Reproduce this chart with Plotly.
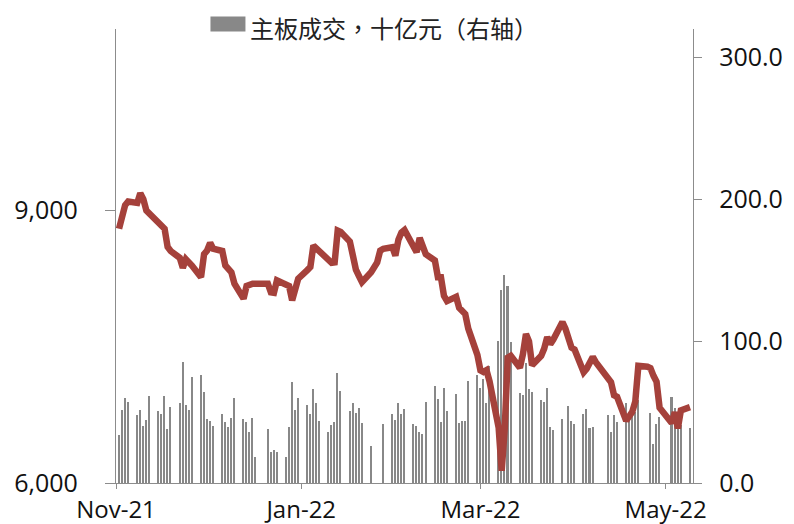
import plotly.graph_objects as go

# ---- data ----
dates = [
    "2021-11-02", "2021-11-03", "2021-11-04", "2021-11-05",
    "2021-11-08", "2021-11-09", "2021-11-10", "2021-11-11", "2021-11-12",
    "2021-11-15", "2021-11-16", "2021-11-17", "2021-11-18", "2021-11-19",
    "2021-11-22", "2021-11-23", "2021-11-24", "2021-11-25", "2021-11-26",
    "2021-11-29", "2021-11-30", "2021-12-01", "2021-12-02", "2021-12-03",
    "2021-12-06", "2021-12-07", "2021-12-08", "2021-12-09", "2021-12-10",
    "2021-12-13", "2021-12-14", "2021-12-15", "2021-12-16", "2021-12-17",
    "2021-12-20", "2021-12-21", "2021-12-22", "2021-12-23", "2021-12-24",
    "2021-12-27", "2021-12-28", "2021-12-29", "2021-12-30", "2021-12-31",
    "2022-01-03", "2022-01-04", "2022-01-05", "2022-01-06", "2022-01-07",
    "2022-01-10", "2022-01-11", "2022-01-12", "2022-01-13", "2022-01-14",
    "2022-01-17", "2022-01-18", "2022-01-19", "2022-01-20", "2022-01-21",
    "2022-01-24", "2022-01-25", "2022-01-26", "2022-01-27", "2022-01-28",
    "2022-01-31", "2022-02-01", "2022-02-02", "2022-02-03", "2022-02-04",
    "2022-02-07", "2022-02-08", "2022-02-09", "2022-02-10", "2022-02-11",
    "2022-02-14", "2022-02-15", "2022-02-16", "2022-02-17", "2022-02-18",
    "2022-02-21", "2022-02-22", "2022-02-23", "2022-02-24", "2022-02-25",
    "2022-02-28", "2022-03-01", "2022-03-02", "2022-03-03", "2022-03-04",
    "2022-03-07", "2022-03-08", "2022-03-09", "2022-03-10", "2022-03-11",
    "2022-03-14", "2022-03-15", "2022-03-16", "2022-03-17", "2022-03-18",
    "2022-03-21", "2022-03-22", "2022-03-23", "2022-03-24", "2022-03-25",
    "2022-03-28", "2022-03-29", "2022-03-30", "2022-03-31", "2022-04-01",
    "2022-04-04", "2022-04-05", "2022-04-06", "2022-04-07", "2022-04-08",
    "2022-04-11", "2022-04-12", "2022-04-13", "2022-04-14", "2022-04-15",
    "2022-04-18", "2022-04-19", "2022-04-20", "2022-04-21", "2022-04-22",
    "2022-04-25", "2022-04-26", "2022-04-27", "2022-04-28", "2022-04-29",
    "2022-05-03", "2022-05-04", "2022-05-05", "2022-05-06",
    "2022-05-09",
]

# main board turnover, bn (right axis); None = no bar visible
turnover = [
    33.8, 51.4, 59.6, 57.3,
    47.9, 51.4, 40.1, 44.4, 61.3,
    50.7, 48.6, 61.5, 37.8, 53.8,
    56.1, 85.4, 54.9, 51.4, 74.4,
    76.1, 64.3, 44.8, 43.9, 40.1,
    48.6, 43.2, 39.7, 46.0, 59.6,
    45.1, 43.2, 35.9, 45.8, 18.5,
    None, 37.8, 22.1, 23.2, 22.1,
    18.5, 39.7, 70.9, 51.4, 59.6,
    54.9, 48.4, 66.0, 56.1, 43.9,
    35.7, 40.8, 42.7, 77.2, 65.0,
    50.7, 56.1, 49.5, 53.1, 42.0,
    26.3, None, None, None, 41.3,
    48.6, 44.4, 56.6, 48.6, 52.1,
    41.3, 40.1, 35.7, 34.5, 56.8,
    68.5, 58.9, 43.2, 66.7, 50.7,
    62.5, 42.0, 43.9, 43.9, 71.8,
    76.1, 67.1, 73.0, 56.1, 82.6,
    100.2, 135.9, 146.5, 138.7, 99.5,
    63.1, 62.0, 84.7, 66.0, 64.1,
    58.5, 56.8, 66.7, 39.2, 37.3,
    44.8, None, 54.2, 43.9, 41.3,
    48.4, 52.0, 38.8, 39.2, None,
    None, 47.7, 35.7, 47.7, 43.2,
    56.1, 46.7, 47.9, 50.0, 58.5,
    None, 49.5, 27.2, 41.3, 46.2,
    60.8, 53.1, 48.4, 40.8,
    38.9,
]

# index level (left axis)
index_level = [
    8800, 8960, 9060, 9100,
    9085, 9190, 9125, 9000, 8965,
    8880, 8830, 8800, 8600, 8555,
    8480, 8370, 8465, 8440, 8395,
    8267, 8520, 8560, 8645, 8580,
    8555, 8395, 8355, 8320, 8195,
    8030, 8170, 8190, 8195, 8195,
    8195, 8195, 8100, 8095, 8231,
    8190, 8170, 8011, 8121, 8250,
    8345, 8380, 8615, 8585, 8560,
    8455, 8425, 8430, 8780, 8765,
    8660, 8505, 8350, 8280, 8212,
    8322, 8380, 8430, 8560, 8579,
    8597, 8505, 8680, 8760, 8787,
    8579, 8542, 8700, 8600, 8520,
    8451, 8267, 8267, 8060, 8003,
    8050, 7930, 7905, 7860, 7700,
    7410, 7240, 7223, 7242, 7120,
    6610, 6135, 6600, 7380, 7400,
    7270, 7420, 7640, 7560, 7297,
    7400, 7480, 7608, 7530, 7580,
    7773, 7700, 7590, 7490, 7470,
    7220, 7260, 7340, 7388, 7330,
    7200, 7165, 7110, 6967, 6950,
    6685, 6730, 6784, 6900, 7290,
    7280, 7265, 7180, 7115, 6830,
    6660, 6780, 6600, 6800,
    6835,
]

x_tick_dates = ["2021-11-01", "2022-01-01", "2022-03-01", "2022-05-01"]
x_tick_labels = ["Nov-21", "Jan-22", "Mar-22", "May-22"]
left_ticks = [6000, 9000]
right_ticks = [0, 100, 200, 300]
legend_name = "主板成交，十亿元（右轴）"

AXIS_GRAY = "#8c8c8c"
BAR_GRAY = "#888888"
TICK_FONT = dict(family="Open Sans", size=25, color="#111111")
X_TICK_FONT = dict(family="Open Sans", size=24, color="#111111")

# page offset of the figure (default body margin) and plot-area margins
OFF = 8
W, H = 794, 524
L, R, T, B = 107.5, 109.3, 20.5, 49
PW, PH = W - L - R, H - T - B


def px_x(page_x):
    return (page_x - OFF - L) / PW


def px_y(page_y):
    return (H - B - (page_y - OFF)) / PH


fig = go.Figure()
fig.add_trace(go.Bar(
    x=dates, y=turnover, name=legend_name, showlegend=False,
    marker=dict(color=BAR_GRAY, line=dict(width=0)),
    width=0.5 * 86400000,
    yaxis="y",
))
fig.add_trace(go.Scatter(
    x=dates, y=index_level, mode="lines", showlegend=False,
    line=dict(color="#A5413B", width=6.5),
    yaxis="y2",
))

# legend key: gray box + label
fig.add_shape(type="rect", xref="paper", yref="paper",
              x0=px_x(210), x1=px_x(245), y0=px_y(31), y1=px_y(16),
              fillcolor=BAR_GRAY, line=dict(width=0))
fig.add_annotation(xref="paper", yref="paper", x=px_x(249), y=px_y(26.5),
                   xanchor="left", yanchor="middle", showarrow=False,
                   borderpad=0, text=legend_name,
                   font=dict(family="Noto Sans CJK TC", size=24, color="#222222"))

fig.update_layout(
    width=W, height=H,
    margin=dict(l=L, r=R, t=T, b=B, pad=0, autoexpand=False),
    paper_bgcolor="white", plot_bgcolor="white",
    bargap=0,
    showlegend=False,
    xaxis=dict(
        type="date", range=["2021-11-01", "2022-05-10"],
        tickvals=x_tick_dates, ticktext=x_tick_labels,
        ticks="outside", ticklen=5, tickcolor=AXIS_GRAY, tickwidth=1.3,
        showline=True, linecolor=AXIS_GRAY, linewidth=1.3,
        showgrid=False, zeroline=False, automargin=False,
        tickfont=X_TICK_FONT, ticklabelstandoff=0,
    ),
    yaxis=dict(
        side="right", range=[0, 320], tickvals=right_ticks, tickformat=".1f",
        ticks="outside", ticklen=8, tickcolor=AXIS_GRAY, tickwidth=1.3,
        showline=True, linecolor=AXIS_GRAY, linewidth=1.3,
        showgrid=False, zeroline=False, automargin=False,
        tickfont=TICK_FONT, ticklabelstandoff=12,
    ),
    yaxis2=dict(
        overlaying="y", side="left", range=[6000, 11000],
        tickvals=left_ticks, tickformat=",d",
        ticks="outside", ticklen=10, tickcolor=AXIS_GRAY, tickwidth=1.3,
        showline=True, linecolor=AXIS_GRAY, linewidth=1.3,
        showgrid=False, zeroline=False, automargin=False,
        tickfont=TICK_FONT, ticklabelstandoff=22,
    ),
)

fig.write_html("out.html")
